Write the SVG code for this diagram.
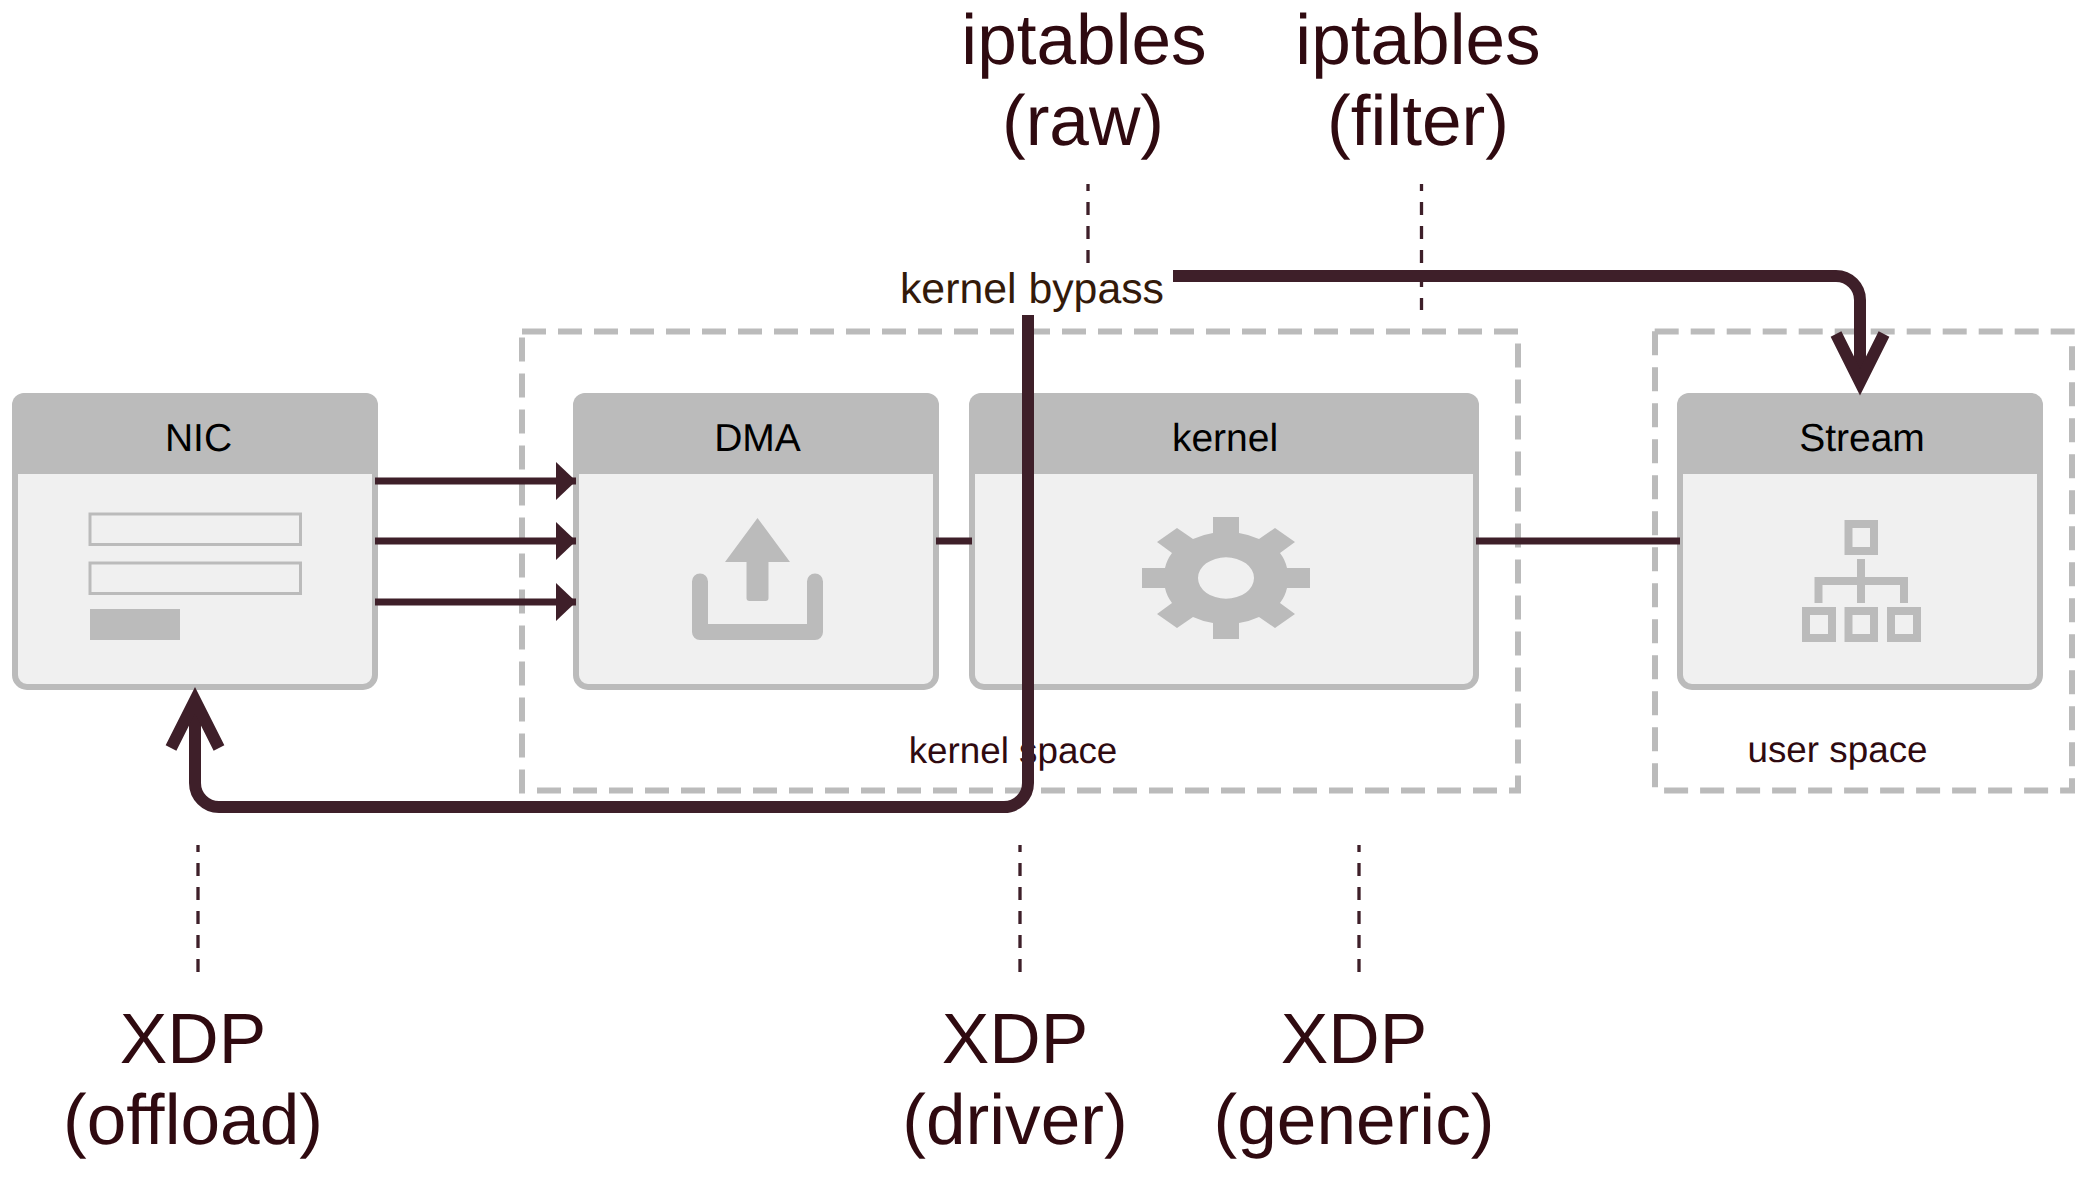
<svg xmlns="http://www.w3.org/2000/svg" width="2085" height="1191" viewBox="0 0 2085 1191">
<style>
text{text-rendering:geometricPrecision}
.big{font-family:"Liberation Sans",Arial,sans-serif;font-size:71.200px;fill:#2f0a10;text-anchor:middle}
.mid{font-family:"Liberation Sans",Arial,sans-serif;font-size:36.800px;fill:#2f0a10;text-anchor:middle}
.hd{font-family:"Liberation Sans",Arial,sans-serif;font-size:39px;fill:#000;text-anchor:middle}
.zone{fill:none;stroke:#bbb;stroke-width:6;stroke-dasharray:24 12}
.body{fill:#f0f0f0;stroke:#bbb;stroke-width:6}
.head{fill:#bbb}
.ic{fill:#bbb}
.thin{fill:none;stroke:#3e1f29;stroke-width:7}
.thick{fill:none;stroke:#3e1f29;stroke-width:12}
.dot{fill:none;stroke:#3e1f29;stroke-width:3.300;stroke-dasharray:13 11;stroke-dashoffset:6}
</style>
<defs>
<marker id="tri" markerUnits="userSpaceOnUse" markerWidth="20" markerHeight="40" refX="20" refY="20" orient="auto"><path d="M0 1L20 20L0 39Z" fill="#3e1f29"/></marker>
</defs>
<g id="zones">
<path class="zone" d="M522 331.500H1518M1518 343.400V790.400H525M522 793.400V331"/>
<path class="zone" d="M1654.700 331.500H2074.700M2072 346.300V790.400H1655M1655 331.300V790.400"/>
<text class="mid" x="1013" y="763">kernel space</text>
<text class="mid" x="1837.500" y="761.500">user space</text>
</g>
<g id="nic">
<rect class="body" x="15" y="396" width="360" height="291" rx="12"/>
<path class="head" d="M12 474V405a12 12 0 0 1 12-12H366a12 12 0 0 1 12 12V474Z"/>
<text class="hd" x="198.500" y="451">NIC</text>
<rect x="90" y="514" width="210.500" height="30.500" fill="none" stroke="#bbb" stroke-width="3"/>
<rect x="90" y="563" width="210.500" height="30.500" fill="none" stroke="#bbb" stroke-width="3"/>
<rect class="ic" x="90" y="609" width="90" height="31"/>
</g>
<g id="dma">
<rect class="body" x="576" y="396" width="360" height="291" rx="12"/>
<path class="head" d="M573 474V405a12 12 0 0 1 12-12H927a12 12 0 0 1 12 12V474Z"/>
<text class="hd" x="757.500" y="451">DMA</text>
<path class="ic" d="M757.500 518L725 562H746.500V598a3 3 0 0 0 3 3H765.500a3 3 0 0 0 3-3V562H790Z"/>
<path class="ic" d="M692 581.500a8 8 0 0 1 16 0V624H807V581.500a8 8 0 0 1 16 0V632a8 8 0 0 1-8 8H700a8 8 0 0 1-8-8Z"/>
</g>
<g id="kernel">
<rect class="body" x="972" y="396" width="504" height="291" rx="12"/>
<path class="head" d="M969 474V405a12 12 0 0 1 12-12H1467a12 12 0 0 1 12 12V474Z"/>
<text class="hd" x="1225" y="451">kernel</text>
<path class="ic" fill-rule="evenodd" d="M1213 517H1239V533A61 45 0 0 1 1259 539L1275 528L1295 542L1280 553A61 45 0 0 1 1287 568H1310V588H1287A61 45 0 0 1 1280 603L1295 614L1275 628L1259 617A61 45 0 0 1 1239 623V639H1213V623A61 45 0 0 1 1193 617L1177 628L1157 614L1172 603A61 45 0 0 1 1165 588H1142V568H1165A61 45 0 0 1 1172 553L1157 542L1177 528L1193 539A61 45 0 0 1 1213 533ZM1198 578a28 20.700 0 1 0 56 0a28 20.700 0 1 0-56 0Z"/>
</g>
<g id="stream">
<rect class="body" x="1680" y="396" width="360" height="291" rx="12"/>
<path class="head" d="M1677 474V405a12 12 0 0 1 12-12H2031a12 12 0 0 1 12 12V474Z"/>
<text class="hd" x="1862" y="451">Stream</text>
<g fill="none" stroke="#bbb" stroke-width="8">
<rect x="1848.500" y="524" width="25.500" height="27"/>
<rect x="1806" y="611" width="26" height="27"/>
<rect x="1848.500" y="611" width="25.500" height="27"/>
<rect x="1891" y="611" width="26" height="27"/>
<path d="M1861 559V603M1818.500 603V581H1904V603"/>
</g>
</g>
<g id="connectors">
<path class="thin" d="M375 481H576" marker-end="url(#tri)"/>
<path class="thin" d="M375 541H576" marker-end="url(#tri)"/>
<path class="thin" d="M375 602H576" marker-end="url(#tri)"/>
<path class="thin" d="M936 541H972"/>
<path class="thin" d="M1476 541H1680"/>
<path class="dot" d="M1088 184V263"/>
<path class="dot" d="M1421.500 184V310"/>
<path class="dot" d="M198 845V973"/>
<path class="dot" d="M1020 845V973"/>
<path class="dot" d="M1359 845V973"/>
<path class="thick" d="M1173 276H1836a24 24 0 0 1 24 24V382"/>
<path class="thick" d="M1836 334L1860 382L1884 334" stroke-linejoin="miter"/>
<path class="thick" d="M1028 315V783a24 24 0 0 1-24 24H219a24 24 0 0 1-24-24V700.400"/>
<path class="thick" d="M171 748L195 700.400L219 748" stroke-linejoin="miter"/>
</g>
<g id="labels">
<text class="big" x="1084" y="64">iptables</text>
<text class="big" x="1083" y="145">(raw)</text>
<text class="big" x="1418" y="64">iptables</text>
<text class="big" x="1418" y="145">(filter)</text>
<text class="big" x="193" y="1063">XDP</text>
<text class="big" x="193" y="1144">(offload)</text>
<text class="big" x="1015" y="1063">XDP</text>
<text class="big" x="1015" y="1144">(driver)</text>
<text class="big" x="1354" y="1063">XDP</text>
<text class="big" x="1354" y="1144">(generic)</text>
<text x="1032" y="303" style="font-family:'Liberation Sans',Arial,sans-serif;font-size:42.800px;fill:#331a0a;text-anchor:middle">kernel bypass</text>
</g>
</svg>
